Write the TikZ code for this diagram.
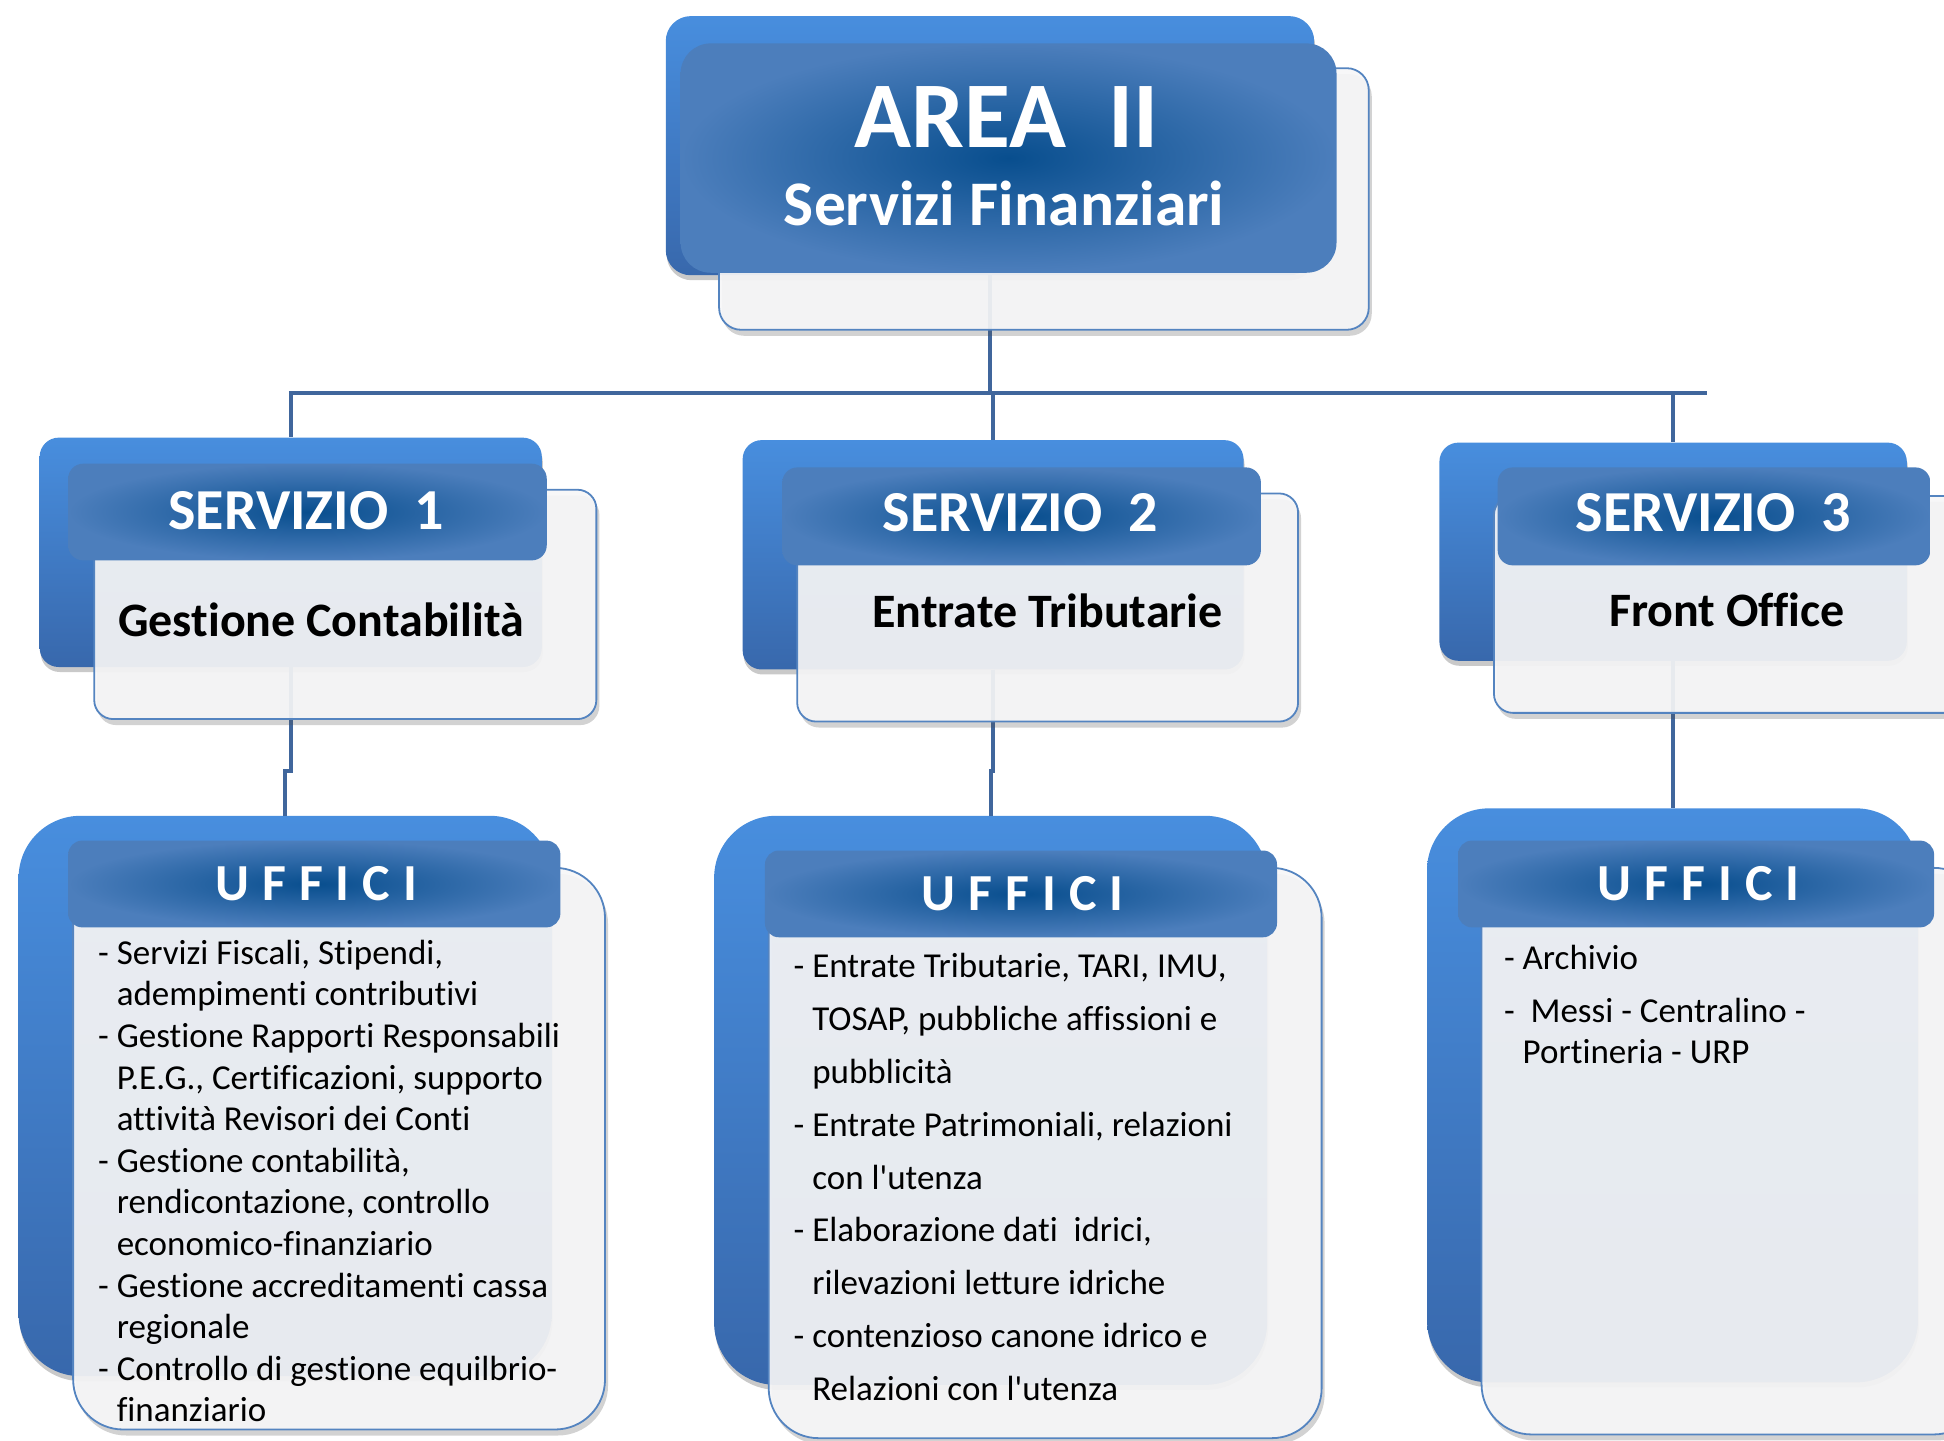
\documentclass[tikz,border=0pt]{standalone}
\usepackage{fontspec}
\setmainfont{Carlito}[Ligatures={NoCommon}]
\usetikzlibrary{fit,shadows,calc}
\definecolor{dkT}{RGB}{72,142,222}
\definecolor{dkB}{RGB}{56,104,172}
\definecolor{hdO}{RGB}{76,126,188}
\definecolor{hdI}{RGB}{8,78,142}
\definecolor{ltF}{RGB}{246,246,247}
\definecolor{ltE}{RGB}{84,132,192}
\definecolor{cn}{RGB}{64,102,156}
\newcommand{\ind}{\hphantom{-\ }}
\newcommand{\apo}{\textquotesingle}
\begin{document}
\begin{tikzpicture}[x=1.2398pt,y=-1.2398pt,
  darkbox/.style={inner sep=0pt, top color=dkT, bottom color=dkB,
    drop shadow={shadow xshift=1pt, shadow yshift=-5pt, opacity=0.3, fill=black!70}},
  lightbox/.style={inner sep=0pt, fill=ltF, fill opacity=0.92, draw=ltE, line width=1.8pt,
    drop shadow={shadow xshift=3pt, shadow yshift=-6pt, opacity=0.25, fill=black!70}},
  headbox/.style={inner sep=0pt, inner color=hdI, outer color=hdO},
  conn/.style={draw=cn, line width=4pt},
  headtext/.style={inner sep=0pt, anchor=base, text=white, font=\bfseries\fontsize{58}{60}\selectfont},
  subtext/.style={inner sep=0pt, anchor=base, text=black, font=\bfseries\fontsize{48}{50}\selectfont},
  uffici/.style={inner sep=0pt, anchor=base, text=white, font=\bfseries\fontsize{52}{54}\selectfont},
  listtext/.style={inner sep=0pt, anchor=north west, align=left, text=black},
]
\useasboundingbox (0,0) rectangle (1568,1162);

% ---------- dark back boxes ----------
\node[darkbox, rounded corners=25pt, fit={(537,13) (1060,222)}] (topdark) {};
\node[darkbox, rounded corners=19pt, fit={(32,353) (437,538)}] (s1dark) {};
\node[darkbox, rounded corners=19pt, fit={(599,355) (1003,540)}] (s2dark) {};
\node[darkbox, rounded corners=19pt, fit={(1161,357) (1538,533)}] (s3dark) {};
\node[darkbox, rounded corners=62pt, fit={(15,658) (445,1110)}] (u1dark) {};
\node[darkbox, rounded corners=62pt, fit={(576,658) (1022,1117)}] (u2dark) {};
\node[darkbox, rounded corners=62pt, fit={(1151,652) (1547,1115)}] (u3dark) {};

% ---------- connectors ----------
\coordinate (hL) at (233,317);
\coordinate (hR) at (1377,317);
\draw[conn] (topdark.south) -- (topdark.south |- hL);
\draw[conn] (hL) -- (hR);
\draw[conn] (s1dark.north |- hL) -- (s1dark.north);
\draw[conn] (s2dark.north |- hL) -- (s2dark.north);
\draw[conn] (s3dark.north |- hL) -- (s3dark.north);
\draw[conn] (s1dark.south) |- ($(u1dark.north)+(0,-36)$) -- (u1dark.north);
\draw[conn] (s2dark.south) |- ($(u2dark.north)+(0,-36)$) -- (u2dark.north);
\draw[conn] (s3dark.south) |- ($(u3dark.north)+(0,-36)$) -- (u3dark.north);

% ---------- light boxes ----------
\node[lightbox, rounded corners=22pt, fit={(580,55) (1104,266)}] (toplight) {};
\node[lightbox, rounded corners=19pt, fit={(76,395) (481,580)}] (s1light) {};
\node[lightbox, rounded corners=19pt, fit={(643,398) (1047,582)}] (s2light) {};
\node[lightbox, rounded corners=19pt, fit={(1205,400) (1600,575)}] (s3light) {};
\node[lightbox, rounded corners=50pt, fit={(59,700) (488,1153)}] (u1light) {};
\node[lightbox, rounded corners=50pt, fit={(620,700) (1066,1160)}] (u2light) {};
\node[lightbox, rounded corners=50pt, fit={(1195,700) (1600,1157)}] (u3light) {};

% ---------- header boxes ----------
\node[headbox, rounded corners=30pt, fit={(549,35) (1078,220)}] (tophead) {};
\node[headbox, rounded corners=15pt, fit={(55,374) (441,452)}] (s1head) {};
\node[headbox, rounded corners=15pt, fit={(631,377) (1017,456)}] (s2head) {};
\node[headbox, rounded corners=15pt, fit={(1208,377) (1557,456)}] (s3head) {};
\node[headbox, rounded corners=14pt, fit={(55,678) (452,748)}] (u1head) {};
\node[headbox, rounded corners=14pt, fit={(617,686) (1030,756)}] (u2head) {};
\node[headbox, rounded corners=14pt, fit={(1176,678) (1560,748)}] (u3head) {};

% ---------- texts ----------
\node[inner sep=0pt, anchor=base, text=white, font=\bfseries\fontsize{94}{100}\selectfont] (t1) at (812,119) {AREA\ \ II};
\node[inner sep=0pt, anchor=base, text=white, font=\bfseries\fontsize{63.5}{66}\selectfont] (t2) at (810,182) {Servizi Finanziari};

\node[headtext] (h1) at (247,427) {SERVIZIO\ \ 1};
\node[headtext] (h2) at (823,429) {SERVIZIO\ \ 2};
\node[headtext] (h3) at (1382,429) {SERVIZIO\ \ 3};

\node[subtext] (g1) at (259,513) {Gestione Contabilità};
\node[subtext] (g2) at (845,506) {Entrate Tributarie};
\node[subtext] (g3) at (1393,505) {Front Office};

\node[uffici] (uf1) at (255,726) {U\hspace{13pt}F\hspace{13pt}F\hspace{13pt}I\hspace{13pt}C\hspace{13pt}I};
\node[uffici] (uf2) at (825,734) {U\hspace{13pt}F\hspace{13pt}F\hspace{13pt}I\hspace{13pt}C\hspace{13pt}I};
\node[uffici] (uf3) at (1370,726) {U\hspace{13pt}F\hspace{13pt}F\hspace{13pt}I\hspace{13pt}C\hspace{13pt}I};

\node[listtext, font=\fontsize{35}{41.6}\selectfont] (l1) at (79,758) {%
- Servizi Fiscali, Stipendi,\\
\ind adempimenti contributivi\\
- Gestione Rapporti Responsabili\\
\ind P.E.G., Certificazioni, supporto\\
\ind attività Revisori dei Conti\\
- Gestione contabilità,\\
\ind rendicontazione, controllo\\
\ind economico-finanziario\\
- Gestione accreditamenti cassa\\
\ind regionale\\
- Controllo di gestione equilbrio-\\
\ind finanziario};

\node[listtext, font=\fontsize{35}{52.8}\selectfont] (l2) at (640,769) {%
- Entrate Tributarie, TARI, IMU,\\
\ind TOSAP, pubbliche affissioni e\\
\ind pubblicità\\
- Entrate Patrimoniali, relazioni\\
\ind con l\apo utenza\\
- Elaborazione dati\ \ idrici,\\
\ind rilevazioni letture idriche\\
- contenzioso canone idrico e\\
\ind Relazioni con l\apo utenza};

\node[listtext, font=\fontsize{35}{41}\selectfont] (l3) at (1213,762) {%
- Archivio\\[12pt]
-\ \ Messi - Centralino -\\
\ind Portineria - URP};
\end{tikzpicture}
\end{document}
